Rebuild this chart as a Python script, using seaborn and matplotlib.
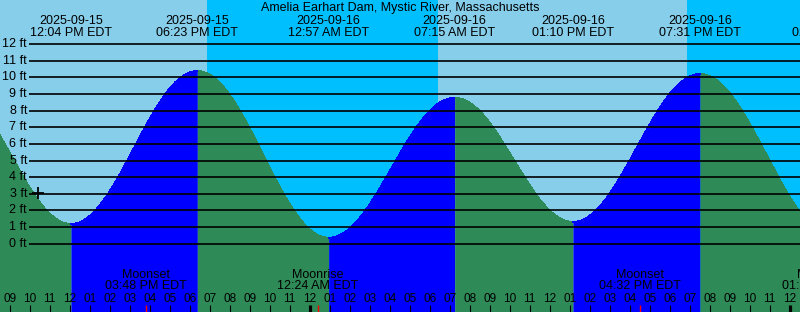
import numpy as np
import pandas as pd
import matplotlib
matplotlib.use("Agg")
import matplotlib.pyplot as plt
import seaborn as sns
from matplotlib.transforms import blended_transform_factory

# ---------------- data ----------------
title = "Amelia Earhart Dam, Mystic River, Massachusetts"
view_start = "2025-09-15 08:31"
view_end = "2025-09-17 00:31"

extreme_times = ["2025-09-15 06:03", "2025-09-15 12:04", "2025-09-15 18:23",
                 "2025-09-16 00:57", "2025-09-16 07:15", "2025-09-16 13:10",
                 "2025-09-16 19:31", "2025-09-17 02:10"]
extreme_heights = [9.5, 1.19, 10.39, 0.36, 8.78, 1.31, 10.21, 0.5]

sun_times = ["2025-09-15 18:52", "2025-09-16 06:24", "2025-09-16 18:51"]

moon_events = ["Moonset", "Moonrise", "Moonset", "Moonrise"]
moon_times = ["2025-09-15 15:48", "2025-09-16 00:24", "2025-09-16 16:32", "2025-09-17 01:39"]

levels_ft = list(range(0, 13))
now_time = "2025-09-15 10:24"
now_height = 3.05

# ---------------- styling ----------------
sns.set_theme(style="white")
plt.rcParams["font.family"] = ["Liberation Sans", "DejaVu Sans"]

DAY = "#87CEEB"
NIGHT = "#00BFFF"
RISE = "#0000FF"
FALL = "#2E8B57"

W, H = 800, 312
t0 = pd.Timestamp(view_start)


def hrs(s):
    return (pd.Timestamp(s) - t0) / pd.Timedelta(hours=1)


t_end = hrs(view_end)
fig = plt.figure(figsize=(W / 100, H / 100), dpi=100)
ax = fig.add_axes([0, 0, 1, 1])
ax.set_facecolor(DAY)
for s in ax.spines.values():
    s.set_visible(False)
ax.set_xticks([])
ax.set_yticks([])
ax.set_xlim(0, t_end)
ymin, ymax = -4.11, 14.66
ax.set_ylim(ymin, ymax)

px_per_h = W / t_end
trans = blended_transform_factory(ax.transData, fig.transFigure)


def fy(ypix):
    return 1 - ypix / H


# night shading
sun_h = [hrs(s) for s in sun_times]
ax.axvspan(sun_h[0], sun_h[1], color=NIGHT, lw=0, zorder=0)
ax.axvspan(sun_h[2], t_end + 5, color=NIGHT, lw=0, zorder=0)

# tide curve (cosine between successive extremes)
ext_h = [hrs(s) for s in extreme_times]
rows = []
for i in range(len(ext_h) - 1):
    ta, tb = ext_h[i], ext_h[i + 1]
    ha, hb = extreme_heights[i], extreme_heights[i + 1]
    ts = np.linspace(ta, tb, 300)
    hs = (ha + hb) / 2 + (ha - hb) / 2 * np.cos(np.pi * (ts - ta) / (tb - ta))
    phase = "rising" if hb > ha else "falling"
    col = RISE if phase == "rising" else FALL
    ax.fill_between(ts, ymin - 1, hs, color=col, lw=0, zorder=1, antialiased=False)
    rows.append(pd.DataFrame({"t": ts, "h": hs, "phase": phase, "seg": i}))
curve = pd.concat(rows, ignore_index=True)
sns.lineplot(data=curve, x="t", y="h", hue="phase", units="seg", estimator=None,
             palette={"rising": RISE, "falling": FALL}, legend=False, lw=0.5,
             antialiased=False, ax=ax, zorder=1.5)
ax.set_xlabel("")
ax.set_ylabel("")
ax.set_xlim(0, t_end)
ax.set_ylim(ymin, ymax)

# level lines and labels
x_line0 = 29.3 / px_per_h
ax.hlines(levels_ft, x_line0, t_end + 1, color="black", lw=1.2, zorder=3)
for lev in levels_ft:
    ax.text(27 / px_per_h, lev, f"{lev} ft", ha="right", va="center",
            fontsize=9, color="black", zorder=4)

# current marker
ax.plot([hrs(now_time)], [now_height], marker="+", color="black", ms=9, mew=1.3,
        ls="none", zorder=5)

# title and extreme labels (only those that reach into the view)
fig.text(0.5, fy(11.5), title, ha="center", va="baseline", fontsize=9, color="black")
for s in extreme_times:
    ts_ = pd.Timestamp(s)
    x = hrs(s)
    if x < 0:
        continue
    ax.text(x, fy(23.5), ts_.strftime("%Y-%m-%d"), transform=trans, ha="center",
            va="baseline", fontsize=9, color="black", zorder=6)
    ax.text(x, fy(35.5), ts_.strftime("%I:%M %p") + " EDT", transform=trans,
            ha="center", va="baseline", fontsize=9, color="black", zorder=6)

# moon events
for name, s in zip(moon_events, moon_times):
    ts_ = pd.Timestamp(s)
    x = hrs(s)
    ax.text(x, fy(278), name, transform=trans, ha="center", va="baseline",
            fontsize=9, color="black", zorder=6)
    ax.text(x, fy(289), ts_.strftime("%I:%M %p") + " EDT", transform=trans,
            ha="center", va="baseline", fontsize=9, color="black", zorder=6)
    ax.vlines(x, fy(312), fy(305), transform=trans, color="red", lw=1.0, zorder=6)

# hour ticks and labels
hours = pd.date_range(t0.ceil("h"), pd.Timestamp(view_end) + pd.Timedelta(hours=2), freq="h")
for ts_ in hours:
    x = (ts_ - t0) / pd.Timedelta(hours=1)
    is_mid = ts_.hour == 0
    ax.vlines(x, fy(312), fy(304.5), transform=trans, color="black",
              lw=2.3 if is_mid else 0.8, zorder=6)
    ax.text(x, fy(301.5), ts_.strftime("%I"), transform=trans, ha="center",
            va="baseline", fontsize=8.5, color="black", zorder=6)

fig.savefig("out.png", dpi=100)
